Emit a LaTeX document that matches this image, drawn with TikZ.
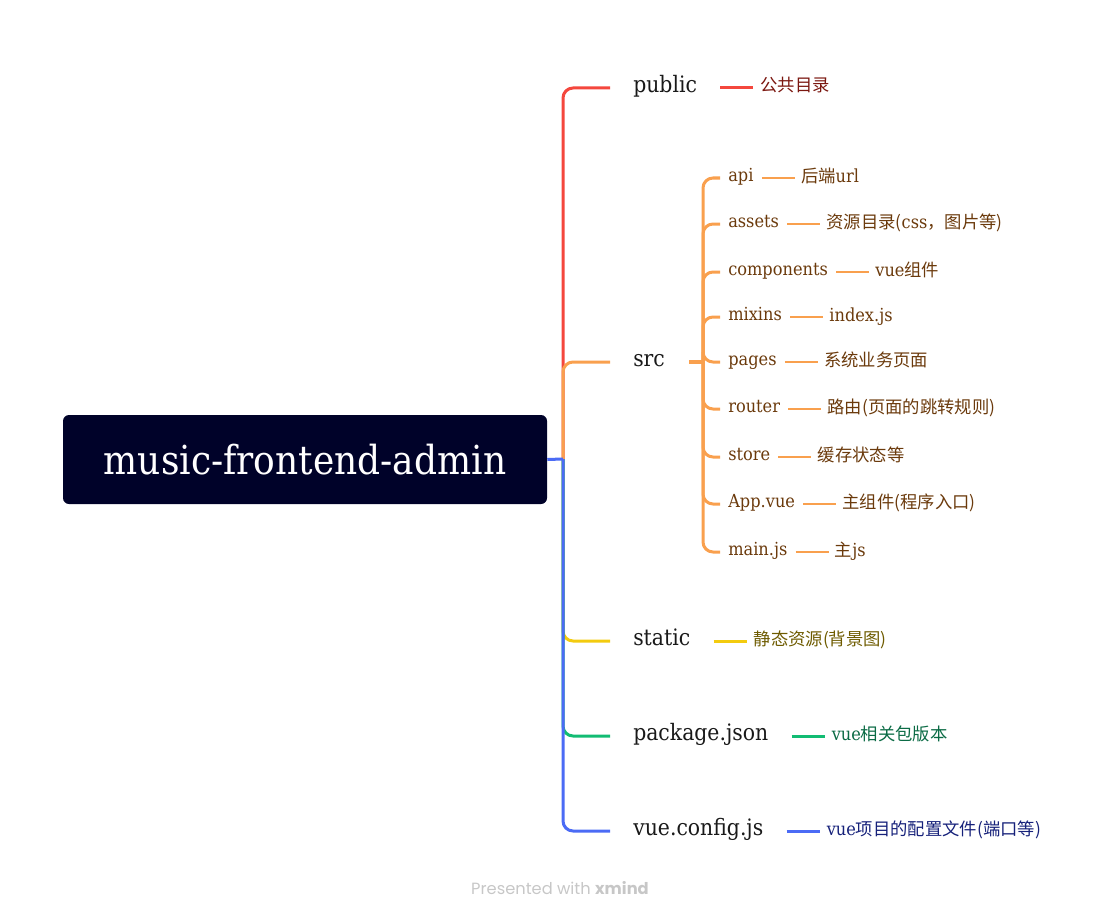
\documentclass[tikz,border=0pt]{standalone}
\usepackage{fontspec}
\setmainfont{DejaVu Serif}[FakeStretch=0.9]
\newfontfamily\cjk{Noto Sans CJK SC}
\newfontfamily\footfont{Poppins}
\usetikzlibrary{positioning}

\definecolor{rootfill}{HTML}{000229}
\definecolor{redline}{HTML}{F4473D}
\definecolor{orangeline}{HTML}{F9A04E}
\definecolor{yellowline}{HTML}{F3CB0F}
\definecolor{greenline}{HTML}{12BC73}
\definecolor{blueline}{HTML}{4B6BF5}
\definecolor{redtext}{HTML}{7B1710}
\definecolor{browntext}{HTML}{6B3A0C}
\definecolor{olivetext}{HTML}{6E5B00}
\definecolor{greentext}{HTML}{0B6B45}
\definecolor{navytext}{HTML}{16217A}

\newcommand{\zhtext}[1]{{\cjk\fontsize{13}{16}\selectfont #1}}

\tikzset{
  root/.style={fill=rootfill, text=white, rounded corners=4.5pt,
    minimum width=363pt, minimum height=66.75pt,
    font=\fontsize{30}{36}\selectfont},
  topic/.style={anchor=west, inner sep=0pt, text height=6.4pt, text depth=0pt,
    font=\fontsize{17}{20}\selectfont, text=black!90},
  child/.style={anchor=west, inner sep=0pt, text height=5.6pt, text depth=0pt,
    font=\fontsize{13.5}{16}\selectfont, text=browntext},
  memo/.style={inner sep=0pt, text height=6pt, text depth=0pt,
    font=\fontsize{13.5}{16}\selectfont},
  branch/.style={line width=2.25pt, rounded corners=7.5pt, shorten >=17.25pt},
  memoline/.style={line width=2.25pt, shorten <=17.25pt, shorten >=5.25pt},
  srcline/.style={line width=2.25pt, draw=orangeline, rounded corners=7.5pt, shorten >=6pt},
  childline/.style={line width=1.5pt, draw=orangeline, shorten <=6pt, shorten >=4.5pt},
}

\begin{document}
\begin{tikzpicture}[x=0.75pt,y=-0.75pt]
  \useasboundingbox (0,0) rectangle (1120,920);

  % root and main topics
  \node[root] (root) at (305,459.5) {music-frontend-admin};
  \coordinate (trunk) at (563,459);
  \coordinate (hub) at (703,362);

  \node[topic] (public) at (633,88) {public};
  \node[topic] (src) at (633,362) {src};
  \node[topic] (static) at (633,641) {static};
  \node[topic] (package) at (633,736) {package.json};
  \node[topic] (vueconfig) at (633,831) {vue.config.js};

  % notes of main topics
  \node[memo, right=47.25pt of public, text=redtext] (public-note) {\zhtext{公共目录}};
  \node[memo, right=47.25pt of static, text=olivetext] (static-note) {\zhtext{静态资源(背景图)}};
  \node[memo, right=47.25pt of package, text=greentext] (package-note) {vue\zhtext{相关包版本}};
  \node[memo, right=47.25pt of vueconfig, text=navytext] (vueconfig-note) {vue\zhtext{项目的配置文件(端口等)}};

  % branches
  \draw[branch, redline] (trunk) |- (public.west);
  \draw[branch, orangeline] (trunk) |- (src.west);
  \draw[branch, yellowline] (trunk) |- (static.west);
  \draw[branch, greenline] (trunk) |- (package.west);
  \draw[branch, blueline] (trunk) |- (vueconfig.west);
  \draw[line width=2.25pt, blueline] (root.east) -- (trunk);

  \draw[memoline, redline] (public.east) -- (public-note.west);
  \draw[memoline, yellowline] (static.east) -- (static-note.west);
  \draw[memoline, greenline] (package.east) -- (package-note.west);
  \draw[memoline, blueline] (vueconfig.east) -- (vueconfig-note.west);

  % src children
  \draw[line width=3pt, orangeline, shorten <=18pt] (src.east) -- (hub);
  \foreach \name/\ypos/\label/\remark in {
    api/178/api/{\zhtext{后端}url},
    assets/224/assets/{\zhtext{资源目录(}css\zhtext{，图片等)}},
    components/272/components/{vue\zhtext{组件}},
    mixins/317/mixins/{index.js},
    pages/362/pages/{\zhtext{系统业务页面}},
    router/409/router/{\zhtext{路由(页面的跳转规则)}},
    store/457/store/{\zhtext{缓存状态等}},
    appvue/504/App.vue/{\zhtext{主组件(程序入口)}},
    mainjs/552/main.js/{\zhtext{主}js}}
  {
    \node[child] (\name) at (728,\ypos) {\label};
    \node[memo, right=35.25pt of \name, text=browntext] (\name-note) {\remark};
    \draw[srcline] (hub) |- (\name.west);
    \draw[childline] (\name.east) -- (\name-note.west);
  }

  \node[text=black!22, font=\footfont\fontsize{12.2}{14}\selectfont] (credit) at (560,888)
    {Presented with \textbf{xmind}};
\end{tikzpicture}
\end{document}
